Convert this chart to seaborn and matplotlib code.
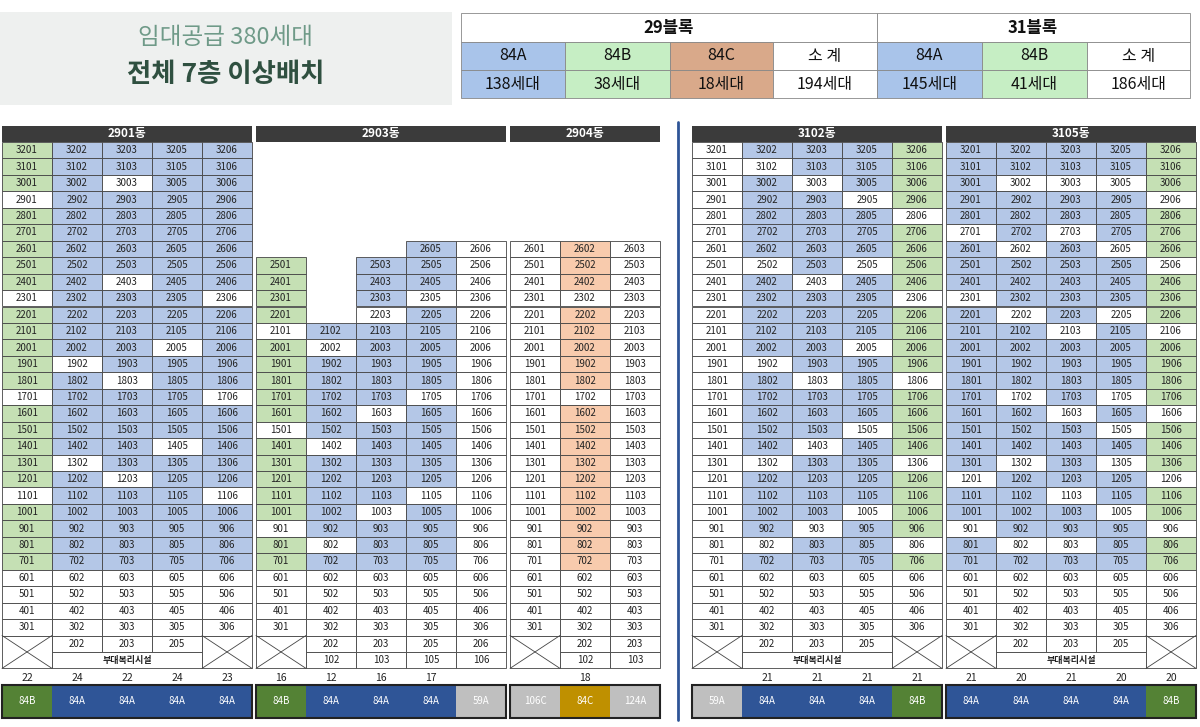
import matplotlib
matplotlib.use("Agg")
import matplotlib.pyplot as plt
from matplotlib.patches import Rectangle
from matplotlib import font_manager
import seaborn as sns

sns.set_theme(style="white")
cjk = sorted({f.name for f in font_manager.fontManager.ttflist if "CJK" in f.name})
pref = [n for n in ["Noto Sans CJK KR", "Noto Sans CJK JP", "Noto Sans CJK SC", "Noto Sans CJK TC"] if n in cjk] + cjk
plt.rcParams["font.family"] = pref + ["DejaVu Sans"]

# ---------------- data ----------------
title_line1 = "임대공급 380세대"
title_line2 = "전체 7층 이상배치"
block_names = ["29블록", "31블록"]
summary_types = ["84A", "84B", "84C", "소 계", "84A", "84B", "소 계"]
summary_counts = ["138세대", "38세대", "18세대", "194세대", "145세대", "41세대", "186세대"]

buildings = ["2901동", "2903동", "2904동", "3102동", "3105동"]
units = [[1, 2, 3, 5, 6], [1, 2, 3, 5, 6], [1, 2, 3], [1, 2, 3, 5, 6], [1, 2, 3, 5, 6]]
# floors 32 -> 7 ; G=84B(green) B=84A(blue) O=84C(orange) W=other '.'=none
pattern_2901 = ["GGGWGGGGGWGGGGGWGGGGGWGGGG",
                "BBBBBBBBBBBBBWBBBBBWBBBBBB",
                "BBWBBBBBWBBBBBWBBBBBWBBBBB",
                "BBBBBBBBBBBBWBBBBBWBBBBBBB",
                "BBBBBBBBBWBBBBBWBBBBBWBBBB"]
pattern_2903 = [".......GGGGWGGGGGWGGGGGWGG",
                "...........BWBBBBBWBBBBBWB",
                ".......BBBWBBBBBWBBBBBWBBB",
                "......BBBWBBBBBWBBBBBWBBBB",
                "......WWWWWWWWWWWWWWWWWWWW"]
pattern_2904 = ["......WWWWWWWWWWWWWWWWWWWW",
                "......OOOWOOOOOWOOOOOOOOOO",
                "......WWWWWWWWWWWWWWWWWWWW"]
pattern_3102 = ["WWWWWWWWWWWWWWWWWWWWWWWWWW",
                "BWBBBBBWBBBBBWBBBBBWBBBBWB",
                "BBWBBBBBWBBBBBWBBBWBBBBWBB",
                "BBBWBBBWBBBBWBBBBWBBBBWBBB",
                "GGGGWGGGGWGGGGWGGGGWGGGGWG"]
pattern_3105 = ["BBBBBWBBBWBBBBBBBBBBWBBWBB",
                "BBWBBBWBBBWBBBBWBBBWBBBBWB",
                "BBWBBWBBBBBWBBBBWBBBBWBBWB",
                "BBWBBBWBBBWBBBBWBWBWBBWBBB",
                "GGGWGGGWGGGWGGGGWGGGWGGWGG"]
patterns = [pattern_2901, pattern_2903, pattern_2904, pattern_3102, pattern_3105]
low_floor_style = ["welfare", "full", "full", "welfare", "welfare"]

counts = [["22", "24", "22", "24", "23"], ["16", "12", "16", "17", ""], ["", "18", ""],
          ["", "21", "21", "21", "21"], ["21", "20", "21", "20", "20"]]
types = [["84B", "84A", "84A", "84A", "84A"], ["84B", "84A", "84A", "84A", "59A"],
         ["106C", "84C", "124A"], ["59A", "84A", "84A", "84A", "84B"],
         ["84A", "84A", "84A", "84A", "84B"]]

# ---------------- styles ----------------
cell_col = {"G": "#c5e0b4", "B": "#b4c7e7", "O": "#f8cbad", "W": "#ffffff"}
type_col = {"84A": "#2f5597", "84B": "#548235", "84C": "#bf9000"}
gray = "#bfbfbf"
bx = [2, 256, 510, 692, 946]
cw = 50
top = 142
rh = 16.45

fig = plt.figure(figsize=(12, 7.27), dpi=100)
ax = fig.add_axes([0, 0, 1, 1])
ax.set_xlim(0, 1200)
ax.set_ylim(727, 0)
ax.axis("off")

def rect(x, y, w, h, fc, ec="#444444", lw=0.6, z=1):
    ax.add_patch(Rectangle((x, y), w, h, facecolor=fc, edgecolor=ec, lw=lw, zorder=z))

def txt(x, y, s, size=7, color="#222222", weight="normal"):
    ax.text(x, y, s, ha="center", va="center", fontsize=size, color=color, fontweight=weight, zorder=5)

# title box
rect(0, 12, 452, 93, "#eef0ef", ec="none")
txt(226, 38, title_line1, size=17, color="#6f9a88")
txt(226, 75, title_line2, size=19, color="#2f5040", weight="bold")

# summary table
cols_x = [461, 565, 670, 773, 877, 982, 1087, 1190]
sum_bg = ["#a9c4ea", "#c6eec4", "#d9a98a", "#ffffff", "#a9c4ea", "#c6eec4", "#ffffff"]
rect(461, 13, 416, 29, "#ffffff", ec="#888888")
rect(877, 13, 313, 29, "#ffffff", ec="#888888")
txt(669, 27.5, block_names[0], size=12, weight="bold", color="#111111")
txt(1033, 27.5, block_names[1], size=12, weight="bold", color="#111111")
for i in range(7):
    w = cols_x[i + 1] - cols_x[i]
    rect(cols_x[i], 42, w, 28, sum_bg[i], ec="#888888")
    rect(cols_x[i], 70, w, 28, sum_bg[i], ec="#888888")
    txt(cols_x[i] + w / 2, 56, summary_types[i], size=11.5, color="#111111")
    txt(cols_x[i] + w / 2, 84, summary_counts[i], size=11.5, color="#111111")

# separator
ax.plot([678, 678], [122, 720], color="#2f5597", lw=2)

for b, name in enumerate(buildings):
    x0 = bx[b]
    n = len(units[b])
    W = n * cw
    rect(x0, 126, W, 16, "#3b3b3b", ec="none")
    txt(x0 + W / 2, 134, name, size=8.5, color="white", weight="bold")
    for c, u in enumerate(units[b]):
        xc = x0 + c * cw
        for i, code in enumerate(patterns[b][c]):
            if code == ".":
                continue
            fl = 32 - i
            y = top + i * rh
            rect(xc, y, cw, rh, cell_col[code])
            txt(xc + cw / 2, y + rh / 2, f"{fl}{u:02d}")
        for j, fl in enumerate([6, 5, 4, 3]):
            y = top + (26 + j) * rh
            rect(xc, y, cw, rh, "#ffffff")
            txt(xc + cw / 2, y + rh / 2, f"{fl}{u:02d}")
        y2 = top + 30 * rh
        crossed = (c == 0) or (low_floor_style[b] == "welfare" and c == n - 1)
        if crossed:
            rect(xc, y2, cw, 2 * rh, "#ffffff")
            ax.plot([xc, xc + cw], [y2, y2 + 2 * rh], color="#444444", lw=0.6, zorder=3)
            ax.plot([xc, xc + cw], [y2 + 2 * rh, y2], color="#444444", lw=0.6, zorder=3)
        else:
            rect(xc, y2, cw, rh, "#ffffff")
            txt(xc + cw / 2, y2 + rh / 2, f"2{u:02d}")
            if low_floor_style[b] == "full":
                rect(xc, y2 + rh, cw, rh, "#ffffff")
                txt(xc + cw / 2, y2 + 1.5 * rh, f"1{u:02d}")
        txt(xc + cw / 2, 678, counts[b][c], size=7.5)
        t = types[b][c]
        rect(xc, 685, cw, 33, type_col.get(t, gray), ec="none")
        txt(xc + cw / 2, 701.5, t, size=7, color="white")
    if low_floor_style[b] == "welfare":
        y2 = top + 31 * rh
        rect(x0 + cw, y2, cw * 3, rh, "#ffffff")
        txt(x0 + 2.5 * cw, y2 + rh / 2, "부대복리시설", size=6.5, weight="bold")
    rect(x0, 685, W, 33, "none", ec="#222222", lw=1.5, z=4)

fig.savefig("out.png", dpi=100)
